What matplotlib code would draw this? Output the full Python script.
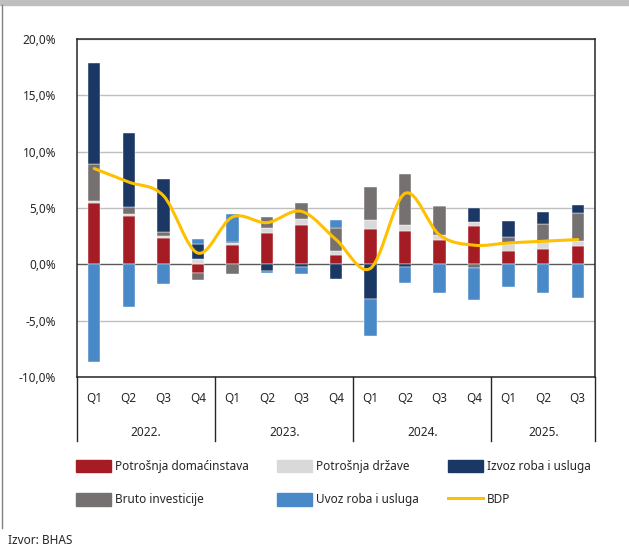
import numpy as np
import matplotlib
matplotlib.use("Agg")
import matplotlib.pyplot as plt
from matplotlib.path import Path
from matplotlib.patches import PathPatch, Patch, Rectangle
from matplotlib.lines import Line2D
import matplotlib.transforms as mtransforms

# Kvartali i godine
QUARTERS = ["Q1", "Q2", "Q3", "Q4", "Q1", "Q2", "Q3", "Q4",
            "Q1", "Q2", "Q3", "Q4", "Q1", "Q2", "Q3"]
YEARS = ["2022.", "2023.", "2024.", "2025."]
YEAR_SIZES = [4, 4, 4, 3]

# Doprinosi rastu (procentni poeni)
potrosnja_domacinstava = [5.45, 4.3, 2.3, -0.8, 1.7, 2.8, 3.5, 0.85,
                          3.15, 2.95, 2.2, 3.4, 1.2, 1.35, 1.6]
potrosnja_drzave = [0.15, 0.15, 0.2, 0.5, 0.15, 0.4, 0.55, 0.3,
                    0.75, 0.5, 0.4, 0.35, 0.6, 0.75, 0.45]
bruto_investicije = [3.3, 0.6, 0.4, -0.6, -0.9, 1.0, 1.35, 2.1,
                     2.95, 4.6, 2.6, -0.3, 0.65, 1.5, 2.5]
izvoz = [9.0, 6.6, 4.65, 1.3, 0.15, -0.6, -0.25, -1.3,
         -3.1, -0.25, 0.0, 1.25, 1.4, 1.05, 0.75]
uvoz = [-8.7, -3.75, -1.75, 0.45, 2.5, -0.2, -0.65, 0.7,
        -3.25, -1.45, -2.5, -2.9, -2.05, -2.55, -3.0]
bdp = [8.5, 7.3, 6.1, 1.0, 4.2, 3.7, 4.7, 2.2,
       -0.35, 6.3, 2.6, 1.7, 1.9, 2.05, 2.2]

SERIES = [
    ("Potrošnja domaćinstava", potrosnja_domacinstava, "#A51C24"),
    ("Potrošnja države", potrosnja_drzave, "#D9D9D9"),
    ("Bruto investicije", bruto_investicije, "#767171"),
    ("Izvoz roba i usluga", izvoz, "#1B3764"),
    ("Uvoz roba i usluga", uvoz, "#4A89C8"),
]
BDP_COLOR = "#FFC000"

plt.rcParams['font.family'] = ['Noto Sans', 'DejaVu Sans']
FS = 8.5

fig = plt.figure(figsize=(6.29, 5.5), dpi=100)
W, H = 629, 550
ax = fig.add_axes([77 / W, 1 - 377 / H, (595 - 77) / W, (377 - 39) / H])

x = np.arange(len(QUARTERS))
pos_base = np.zeros(len(x))
neg_base = np.zeros(len(x))
for name, vals, color in SERIES:
    v = np.array(vals, dtype=float)
    base = np.where(v >= 0, pos_base, neg_base)
    ax.bar(x, v, width=0.36, bottom=base, color=color,
           edgecolor="white", linewidth=0.3, zorder=3)
    pos_base = pos_base + np.where(v >= 0, v, 0)
    neg_base = neg_base + np.where(v < 0, v, 0)

# BDP - izglađena linija (Catmull-Rom preko Bezierovih krivih)
pts = np.column_stack([x, bdp]).astype(float)
verts = [pts[0]]
codes = [Path.MOVETO]
n = len(pts)
for i in range(n - 1):
    p0 = pts[i - 1] if i > 0 else pts[i]
    p1 = pts[i]
    p2 = pts[i + 1]
    p3 = pts[i + 2] if i + 2 < n else pts[i + 1]
    c1 = p1 + (p2 - p0) / 6.0
    c2 = p2 - (p3 - p1) / 6.0
    verts += [c1, c2, p2]
    codes += [Path.CURVE4] * 3
ax.add_patch(PathPatch(Path(verts, codes), facecolor="none",
                       edgecolor=BDP_COLOR, linewidth=2.2, zorder=4,
                       capstyle="round", joinstyle="round"))

ax.set_xlim(-0.5, len(x) - 0.5)
ax.set_ylim(-10, 20)
ax.set_yticks(np.arange(-10, 21, 5))
ax.set_yticklabels([f"{t:.1f}%".replace(".", ",") for t in np.arange(-10, 21, 5)],
                   fontsize=FS, color="#262626")
ax.set_xticks([])
ax.tick_params(axis="y", length=0, pad=15)
for y in np.arange(-10, 21, 5):
    if y == 0:
        ax.axhline(0, color="#595959", linewidth=1.0, zorder=2)
    else:
        ax.axhline(y, color="#BFBFBF", linewidth=1.0, zorder=1)
for s in ax.spines.values():
    s.set_color("#262626")
    s.set_linewidth(1.1)

# Kategorijska osa ispod grafika
trans = mtransforms.blended_transform_factory(ax.transData, ax.transAxes)
for i, q in enumerate(QUARTERS):
    ax.text(i, -0.064, q, transform=trans, ha="center", va="center",
            fontsize=FS, color="#262626")
start = 0
seps = [-0.5]
for yr, size in zip(YEARS, YEAR_SIZES):
    mid = start + (size - 1) / 2.0
    ax.text(mid, -0.163, yr, transform=trans, ha="center", va="center",
            fontsize=FS, color="#262626")
    start += size
    seps.append(start - 0.5)
for s in seps:
    ax.plot([s, s], [0, -0.188], transform=trans, color="#262626",
            linewidth=1.0, clip_on=False)

# Legenda - tri kolone
def legend_col(handles, labels, xpx):
    fig.legend(handles, labels, loc="upper left",
               bbox_to_anchor=(xpx / W, 1 - 460 / H), frameon=False,
               fontsize=FS, handlelength=3.0, handleheight=1.25,
               handletextpad=0.3, labelspacing=1.7, borderpad=0,
               borderaxespad=0, labelcolor="#262626")

legend_col([Patch(color=SERIES[0][2]), Patch(color=SERIES[2][2])],
           [SERIES[0][0], SERIES[2][0]], 76)
legend_col([Patch(color=SERIES[1][2]), Patch(color=SERIES[4][2])],
           [SERIES[1][0], SERIES[4][0]], 277)
legend_col([Patch(color=SERIES[3][2]), Line2D([], [], color=BDP_COLOR, linewidth=2.2)],
           [SERIES[3][0], "BDP"], 448)

fig.text(8 / W, 1 - 541 / H, "Izvor: BHAS", fontsize=FS, va="center",
         color="#262626")

# Okvir: siva traka na vrhu i lijeva linija
fig.patches.append(Rectangle((0, 1 - 5 / H), 1, 5 / H, transform=fig.transFigure,
                             color="#BFBFBF", zorder=0))
fig.lines.append(Line2D([2 / W, 2 / W], [1 - 5 / H, 1 - 528 / H],
                        transform=fig.transFigure, color="#808080", linewidth=1))

fig.savefig("out.png", dpi=100)
